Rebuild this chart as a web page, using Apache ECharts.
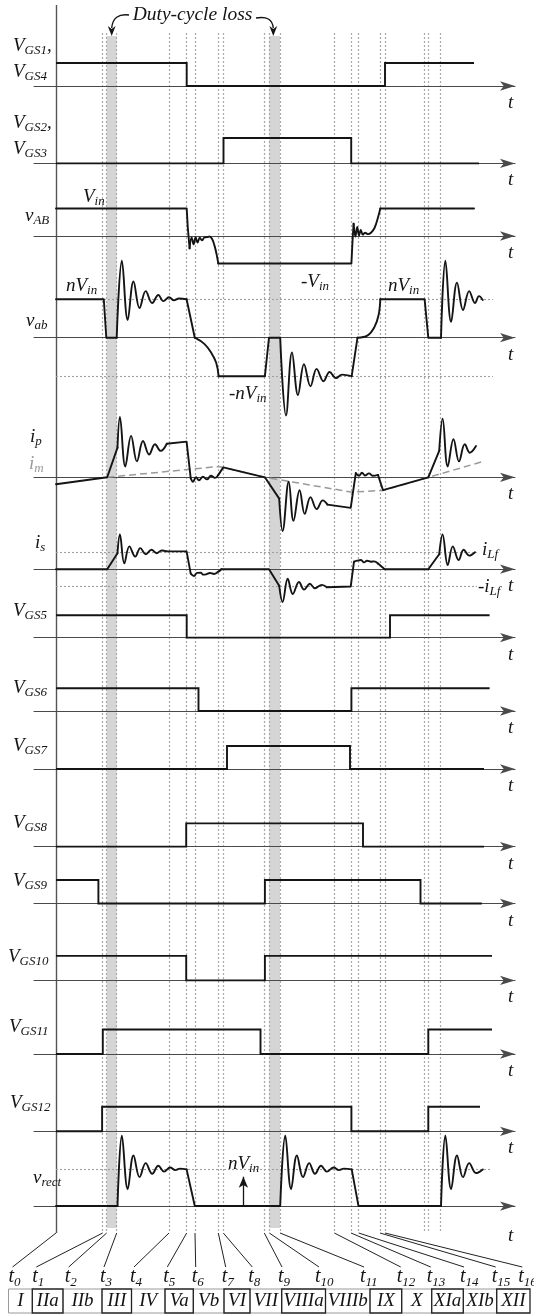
<!DOCTYPE html>
<html><head><meta charset="utf-8">
<script src="https://cdn.jsdelivr.net/npm/echarts@6/dist/echarts.min.js"></script>
<style>html,body{margin:0;padding:0;background:#fff}#c{width:534px;height:1316px}</style>
</head><body><div id="c"></div>
<script>
// ---------------- DATA (time unit: arbitrary, t0 = 0) ----------------
const T_EVENTS = [0, 46.7, 50.7, 60.7, 113, 130.7, 139, 162.3, 167.3, 208.3, 213.3, 224, 278.3, 295, 302.7, 324, 329]; // t0..t16
const T_EXTRA = [368, 372.3, 384];            // next-period instants (unlabelled)
const SHADES = [[50.7, 60.7], [213.3, 224]];  // duty-cycle loss intervals
const PHASES = ['I','IIa','IIb','III','IV','Va','Vb','VI','VII','VIIIa','VIIIb','IX','X','XIa','XIb','XII'];
const TICK_SUBS = ['0','1','2','3','4','5','6','7','8','9','10','11','12','13','14','15','16'];

// gate signals: [time, level from this time on]
const VGS14 = [[0,1],[130.7,0],[329,1],[418,1]];
const VGS23 = [[0,0],[167.5,1],[295.2,0],[423,0]];
const VGS5  = [[0,1],[130.7,0],[334,1],[433.6,1]];
const VGS6  = [[0,1],[142.5,0],[295.4,1],[433.6,1]];
const VGS7  = [[0,0],[171,1],[294,0],[428,0]];
const VGS8  = [[0,0],[130.2,1],[307,0],[428,0]];
const VGS9  = [[0,1],[42.4,0],[208.9,1],[364.5,0],[425.8,0]];
const VGS10 = [[0,1],[130.2,0],[208.9,1],[436,1]];
const VGS11 = [[0,0],[46.8,1],[204.5,0],[372.3,1],[436,1]];
const VGS12 = [[0,0],[46.1,1],[295.4,0],[372.3,1],[424,1]];

// analog waveforms [time, value] (vAB in Vin, vab & vrect in nVin, is in iLf)
const V_AB = [[0,1],[130.7,1],[131.8,0.3],[133.6,-0.45],[135.6,-0.05],[137.6,-0.3],[139.6,-0.04],[141.6,-0.24],[143.8,-0.06],[146,-0.16],[148.5,-0.05],[151,-0.04],[153.5,-0.02],[156,-0.1],[158.5,-0.35],[160.5,-0.65],[162.3,-1],[295.4,-1],[296.5,-0.2],[297.6,0.45],[299.4,-0.02],[301.2,0.33],[303,0.02],[304.8,0.22],[306.8,0.05],[309,0.12],[312,0.07],[315,0.12],[318.5,0.29],[321.9,0.66],[324.3,1],[418,1]];
const V_ab = [[0,1],[47.8,1],[50.3,0],[60.7,0],[65.9,2.0],[71.7,0.46],[77.5,1.46],[83.6,0.77],[89.7,1.21],[96.2,0.9],[102.3,1.11],[107.4,0.95],[113,1.05],[118,0.97],[123,1.02],[130.6,1],[138.8,0],[148.3,-0.16],[155,-0.38],[160.2,-0.65],[162.6,-1],[208.9,-1],[213,0],[224.2,0],[230,-2.02],[236,-0.38],[242,-1.49],[248,-0.69],[254.5,-1.26],[260.6,-0.81],[267.5,-1.13],[273.6,-0.89],[280,-1.05],[286,-0.96],[295.7,-1],[301.5,0],[311.7,0.06],[318.5,0.28],[322.6,0.59],[324.3,1],[368.6,1],[372.3,0],[385,0],[389.4,2.0],[395.1,0.41],[401,1.43],[407,0.72],[413.2,1.21],[419,0.9],[423,1.08],[426.8,0.98]];
const I_P = [[0,-0.23],[51.2,0],[61.5,0.99],[63.9,2.01],[69.3,0.36],[75.1,1.38],[80.9,0.53],[87,1.21],[93.1,0.76],[99,1.1],[104.7,0.88],[110.8,1.12],[130.6,1.19],[134.7,-0.03],[137,-0.15],[140,0],[143,-0.1],[147,0.02],[151,-0.07],[155,0.05],[159,-0.02],[162.3,0.08],[167.3,0.33],[208.9,0],[223.2,-0.71],[226.6,-1.79],[232.7,-0.15],[237.5,-1.45],[243.6,-0.43],[248.7,-1.22],[254.5,-0.66],[260.7,-1.06],[266.8,-0.77],[271.5,-0.91],[294.7,-1.02],[299.8,0.14],[303,0.05],[306,0.15],[309,0.06],[313,0.13],[317,0.05],[322,0.08],[327,-0.43],[372.3,0],[383.2,0.88],[386.6,1.95],[391.7,0.36],[397.5,1.27],[403,0.53],[408.8,1.1],[413.9,0.82],[420,1.04]];
const I_M = [[51.2,0],[162.6,0.36],[167.3,0.33],[208.9,0],[295,-0.49],[327,-0.44],[372.3,0],[427.5,0.53]];
const I_S = [[0,0],[51.2,0],[61.5,0.94],[63.9,2.04],[68.3,0.34],[73.4,1.34],[79.2,0.74],[84.3,1.24],[89.7,0.88],[95.5,1.14],[100.6,0.94],[105.7,1.1],[110.8,1.05],[130.6,1.05],[134.7,-0.26],[138,-0.4],[141,-0.22],[144.9,-0.2],[147,-0.32],[150,-0.3],[154,-0.22],[158,-0.28],[162,-0.16],[165.3,0],[213,0],[223.2,-0.97],[226.6,-1.93],[231.7,-0.56],[236.8,-1.46],[243,-0.75],[248,-1.2],[253.8,-0.86],[259,-1.12],[265.8,-0.92],[270.9,-1.06],[294.7,-1.02],[298,0.44],[301,0.5],[305,0.54],[308,0.4],[311,0.5],[315,0.44],[318,0.46],[322,0.34],[328.7,0],[372.3,0],[383.2,0.88],[386.6,2.04],[391.7,0.25],[396.8,1.34],[402.6,0.54],[407.7,1.14],[413.2,0.8],[419,1.0]];
const V_RECT = [[0,0],[61.5,0],[65.9,1.92],[71.7,0.46],[77.5,1.38],[83.6,0.79],[89.7,1.17],[96.2,0.88],[102.3,1.1],[108.1,0.94],[114.2,1.05],[119.3,0.98],[124,1.02],[130.6,1],[138.8,0],[224.2,0],[229.3,1.92],[235.1,0.46],[240.9,1.38],[247,0.79],[253.2,1.17],[259,0.88],[265,1.1],[270.9,0.94],[277.7,1.05],[282.8,0.98],[288,1.02],[295.7,1],[302.5,0],[385,0],[389.4,1.92],[395.1,0.46],[401,1.38],[407,0.79],[413.2,1.17],[420,0.9],[426.8,1]];
const REF_VAB = [1, -1];   // ±nVin dotted levels
const REF_IS = [1, -1];    // ±iLf dotted levels
const REF_VRECT = [1];     // nVin dotted level
const VRECT_ARROW = [187.4, 0.8]; // nVin marker: time, height

// ---------------- LAYOUT / STYLE ----------------
const X_MIN = -22, X_MAX = 459, LEFT = 34, WIDTH = X_MAX - X_MIN;
const FONT = '"Liberation Serif","Times New Roman",serif';
const INK = '#141414';
// time windows drawn as smooth curves (ringing / exponential edges)
const CURVY_VAB = [[133.6, 162.3], [297.6, 324.3]];
const CURVY_Vab = [[60.7, 130.6], [138.8, 162.6], [224.2, 295.7], [301.5, 324.3], [385, 426.8]];
const CURVY_IP = [[61.5, 110.8], [134.7, 162.3], [223.2, 271.5], [299.8, 322], [383.2, 420]];
const CURVY_IS = [[61.5, 110.8], [134.7, 165.3], [223.2, 270.9], [298, 322], [383.2, 419]];
const CURVY_VRECT = [[61.5, 130.6], [224.2, 295.7], [385, 426.8]];

function steps(list) {
  const out = [];
  list.forEach(([t, l], i) => { if (i > 0) out.push([t, list[i-1][1]]); out.push([t, l]); });
  return out;
}
function splitCurvy(data, ranges) {
  const inside = t => ranges.some(([a, b]) => t > a && t < b);
  const straight = [];
  data.forEach(p => {
    if (inside(p[0])) { if (straight.length && straight[straight.length-1][1] !== null) straight.push([p[0], null]); }
    else straight.push(p);
  });
  const curvy = [];
  ranges.forEach(([a, b], k) => {
    if (k > 0) curvy.push([a - 0.01, null]);
    data.forEach(p => { if (p[0] >= a && p[0] <= b) curvy.push(p); });
  });
  return {straight, curvy};
}

const ROWS = [
  {b: 86,     s: 23,   data: steps(VGS14)},
  {b: 163.4,  s: 25.4, data: steps(VGS23)},
  {b: 236,    s: 27.5, data: V_AB, curvy: CURVY_VAB},
  {b: 337.7,  s: 38.5, data: V_ab, curvy: CURVY_Vab, refs: REF_VAB, refEnd: 437},
  {b: 477.3,  s: 30,   data: I_P, curvy: CURVY_IP, dashed: I_M},
  {b: 569.2,  s: 17,   data: I_S, curvy: CURVY_IS, refs: REF_IS, refEnd: 421},
  {b: 637.6,  s: 22.4, data: steps(VGS5)},
  {b: 711,    s: 22.7, data: steps(VGS6)},
  {b: 769,    s: 23,   data: steps(VGS7)},
  {b: 846.6,  s: 23.2, data: steps(VGS8)},
  {b: 903.5,  s: 23.5, data: steps(VGS9)},
  {b: 980.4,  s: 24.5, data: steps(VGS10)},
  {b: 1054,   s: 24.5, data: steps(VGS11)},
  {b: 1131.3, s: 24.5, data: steps(VGS12)},
  {b: 1218.5, s: 40.8, data: V_RECT, curvy: CURVY_VRECT, refs: REF_VRECT, refEnd: 436, arrow: VRECT_ARROW},
];

const grid = [{left: LEFT, width: WIDTH, top: 5, height: 1228}];
const xAxis = [{gridIndex: 0, type: 'value', min: X_MIN, max: X_MAX, show: false}];
const yAxis = [{gridIndex: 0, type: 'value', min: 5, max: 1233, inverse: true, show: false}];
const series = [];

const allT = T_EVENTS.slice(1).concat(T_EXTRA);
series.push({
  type: 'line', xAxisIndex: 0, yAxisIndex: 0, data: [[0, 5]], symbol: 'none',
  lineStyle: {opacity: 0}, z: 1, silent: true, animation: false,
  markLine: {
    silent: true, symbol: ['none', 'none'], label: {show: false}, animation: false,
    lineStyle: {type: [2, 2], color: '#a8a8a8', width: 1.2},
    data: allT.map(t => [{coord: [t, 33]}, {coord: [t, 1233]}]).concat([
      [{coord: [0, 5], lineStyle: {type: 'solid', color: '#555', width: 1.4}}, {coord: [0, 1233]}]
    ])
  },
  markArea: {
    silent: true, itemStyle: {color: '#d5d5d5'}, label: {show: false},
    data: SHADES.map(([a, b]) => [{coord: [a, 36]}, {coord: [b, 1228]}])
  }
});

const waveStyle = {color: INK, width: 1.9, join: 'round', cap: 'round'};
ROWS.forEach((r, i) => {
  const gi = i + 1;
  grid.push({left: LEFT, width: WIDTH, top: r.b - 3 * r.s, height: 6 * r.s});
  xAxis.push({
    gridIndex: gi, type: 'value', min: X_MIN, max: X_MAX, z: 5,
    axisLine: {show: true, onZero: true, symbol: ['none', 'arrow'], symbolSize: [7, 15],
      lineStyle: {color: '#4a4a4a', width: 1.2}},
    axisTick: {show: false}, axisLabel: {show: false}, splitLine: {show: false}
  });
  yAxis.push({gridIndex: gi, type: 'value', min: -3, max: 3, show: false, axisLine: {onZero: false}});
  if (r.dashed) {
    series.push({type: 'line', xAxisIndex: gi, yAxisIndex: gi, data: r.dashed, symbol: 'none', z: 6,
      animation: false, silent: true, lineStyle: {color: '#9a9a9a', width: 1.5, type: [7, 4]}});
  }
  if (r.curvy) {
    const parts = splitCurvy(r.data, r.curvy);
    series.push({type: 'line', xAxisIndex: gi, yAxisIndex: gi, data: parts.straight, symbol: 'none', z: 7,
      animation: false, silent: true, connectNulls: false, lineStyle: waveStyle});
    series.push({type: 'line', xAxisIndex: gi, yAxisIndex: gi, data: parts.curvy, symbol: 'none', z: 7,
      animation: false, silent: true, connectNulls: false, smooth: 0.4, lineStyle: waveStyle});
  } else {
    series.push({type: 'line', xAxisIndex: gi, yAxisIndex: gi, data: r.data, symbol: 'none', z: 7,
      animation: false, silent: true, lineStyle: {color: INK, width: 1.9, join: 'miter'}});
  }
  if (r.refs) {
    series.push({type: 'line', xAxisIndex: gi, yAxisIndex: gi, data: [], symbol: 'none', z: 4,
      silent: true, animation: false,
      markLine: {silent: true, symbol: ['none', 'none'], label: {show: false}, animation: false,
        lineStyle: {type: [2, 2], color: '#a0a0a0', width: 1.1},
        data: r.refs.map(v => [{coord: [0, v]}, {coord: [r.refEnd, v]}])}});
  }
  if (r.arrow) {
    series.push({type: 'line', xAxisIndex: gi, yAxisIndex: gi, data: [], symbol: 'none', z: 8,
      silent: true, animation: false,
      markLine: {silent: true, symbol: ['none', 'arrow'], symbolSize: [7, 11], label: {show: false}, animation: false,
        lineStyle: {type: 'solid', color: INK, width: 1.3},
        data: [[{coord: [r.arrow[0], 0]}, {coord: [r.arrow[0], r.arrow[1]]}]]}});
  }
});

const chart = echarts.init(document.getElementById('c'), null, {renderer: 'canvas'});
chart.setOption({animation: false, backgroundColor: '#fff', grid, xAxis, yAxis, series});

// ---------------- TEXT & ANNOTATIONS ----------------
const mctx = document.createElement('canvas').getContext('2d');
function tw(str, size) { mctx.font = `italic ${size}px ${FONT}`; return mctx.measureText(str).width; }
function txt(x, y, text, size, color, align) {
  return {type: 'text', x, y, z: 20, silent: true,
    style: {text, font: `italic ${size}px ${FONT}`, fill: color || INK, align: align || 'left', verticalAlign: 'middle'}};
}
function label(x, y, main, sub, opt) {
  opt = opt || {};
  const size = opt.size || 19, ss = opt.ss || 13, col = opt.color || INK;
  const els = [txt(x, y, main, size, col)];
  let cx = x + tw(main, size) + (opt.gap || 0);
  if (sub) { els.push(txt(cx, y + (opt.dy || 5), sub, ss, col)); cx += tw(sub, ss); }
  if (opt.tail) els.push(txt(cx, y, opt.tail, size, col));
  return els;
}

const g = [];
const LABELS = [
  [13, 46, 'V', 'GS1', {tail: ','}], [13, 72, 'V', 'GS4'],
  [13, 123, 'V', 'GS2', {tail: ','}], [13, 149, 'V', 'GS3'],
  [25, 216, 'v', 'AB'], [83, 197, 'V', 'in'],
  [26, 321, 'v', 'ab'], [66, 286, 'nV', 'in'], [301, 282, '-V', 'in'],
  [229, 394, '-nV', 'in'], [388, 286, 'nV', 'in'],
  [30, 437, 'i', 'p'], [29, 464, 'i', 'm', {color: '#9a9a9a'}],
  [35, 543, 'i', 's'], [482, 550, 'i', 'Lf'], [478, 587, '-i', 'Lf'],
  [13, 611, 'V', 'GS5'], [13, 688, 'V', 'GS6'], [13, 746, 'V', 'GS7'], [13, 823, 'V', 'GS8'],
  [13, 881, 'V', 'GS9'], [8, 957, 'V', 'GS10'], [9, 1027, 'V', 'GS11'], [10, 1103, 'V', 'GS12'],
  [33, 1178, 'v', 'rect'], [228, 1164, 'nV', 'in']
];
LABELS.forEach(l => g.push(...label(l[0], l[1], l[2], l[3], l[4])));
ROWS.forEach(r => g.push(txt(508, r.b + 17, 't', 19)));

// duty-cycle loss title & curved arrows
g.push(txt(192.5, 15, 'Duty-cycle loss', 19.5, INK, 'center'));
const arrowStyle = {stroke: INK, lineWidth: 1.4, fill: null};
g.push({type: 'bezierCurve', z: 20, silent: true, shape: {x1: 129, y1: 15, x2: 111.7, y2: 28, cpx1: 113, cpy1: 13}, style: arrowStyle});
g.push({type: 'polygon', z: 20, silent: true, shape: {points: [[111.7, 36], [107.8, 26], [111.7, 29], [115.6, 26]]}, style: {fill: INK}});
g.push({type: 'bezierCurve', z: 20, silent: true, shape: {x1: 256, y1: 18, x2: 273.3, y2: 28, cpx1: 272, cpy1: 15}, style: arrowStyle});
g.push({type: 'polygon', z: 20, silent: true, shape: {points: [[273.3, 36], [269.4, 26], [273.3, 29], [277.2, 26]]}, style: {fill: INK}});

// bottom instants: connectors, labels, phase boxes
const T_LABEL_X = [8.5, 32.3, 64.7, 100, 130, 163.3, 191.7, 221.7, 248.3, 278, 315, 360, 396.7, 426.7, 460, 491.7, 518.3];
const CELL_EDGES = [8.5, 32.3, 63, 102, 131.5, 165, 193.3, 224, 250, 281.7, 325.5, 370, 401.7, 431.7, 463.3, 496.7, 530];
T_EVENTS.forEach((t, i) => {
  const px = chart.convertToPixel({xAxisIndex: 0}, t);
  g.push({type: 'line', z: 20, silent: true, shape: {x1: px, y1: 1233, x2: T_LABEL_X[i] + 4, y2: 1267},
    style: {stroke: '#222', lineWidth: 1}});
  g.push(...label(T_LABEL_X[i], 1277, 't', TICK_SUBS[i], {size: 20, ss: 13, dy: 6}));
});
PHASES.forEach((p, i) => {
  const x0 = CELL_EDGES[i], x1 = CELL_EDGES[i + 1];
  const dark = i % 2 === 1;
  g.push({type: 'rect', z: dark ? 21 : 20, silent: true, shape: {x: x0, y: 1289, width: x1 - x0, height: 24},
    style: {fill: null, stroke: dark ? '#222' : '#9a9a9a', lineWidth: dark ? 1.3 : 1}});
  g.push(txt((x0 + x1) / 2, 1301, p, 19, INK, 'center'));
});

chart.setOption({graphic: g});
</script></body></html>
